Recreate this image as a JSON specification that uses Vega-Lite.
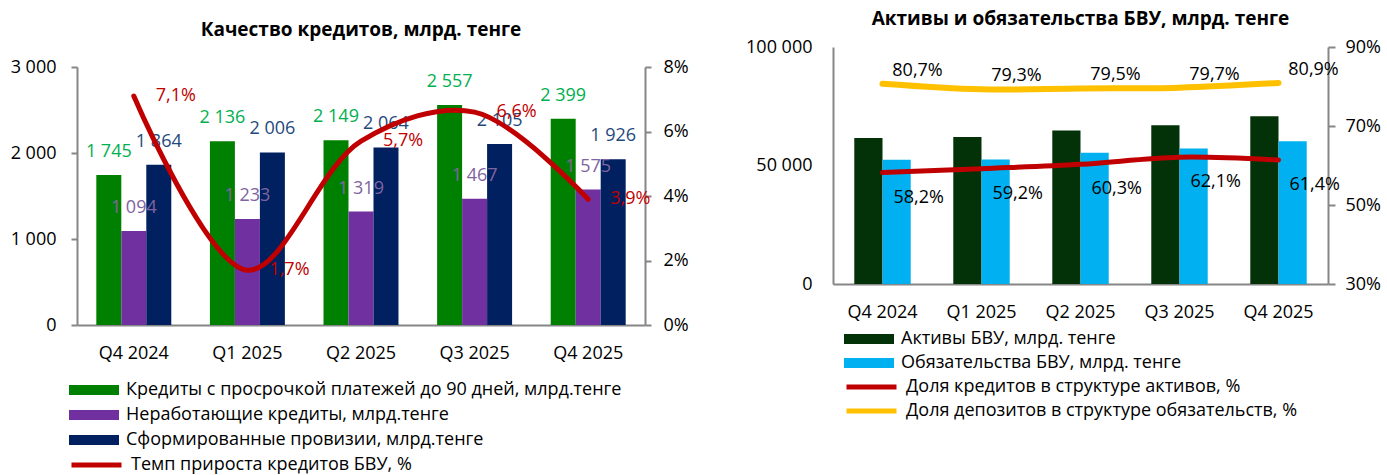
{
  "$schema": "https://vega.github.io/schema/vega-lite/v6.json",
  "background": "white",
  "padding": {"left": 10, "top": 10, "right": 5, "bottom": 0},
  "config": {
    "font": "Open Sans",
    "locale": {"number": {"decimal": ",", "thousands": " ", "grouping": [3], "currency": ["", ""]}},
    "view": {"stroke": null},
    "axis": {"labelFont": "Open Sans", "labelFontSize": 18, "labelColor": "#000000", "domainColor": "#868686", "tickColor": "#868686", "domainWidth": 2, "tickWidth": 2, "grid": false, "title": null},
    "title": {"font": "Open Sans", "fontSize": 19, "fontWeight": "bold", "color": "#000000"},
    "legend": {"labelFont": "Open Sans", "labelFontSize": 18, "labelColor": "#000000", "title": null, "orient": "none", "direction": "vertical", "clipHeight": 18, "labelOffset": 7, "labelLimit": 700}
  },
  "spacing": 56,
  "resolve": {"scale": {"x": "independent", "y": "independent", "xOffset": "independent", "color": "independent", "fill": "independent", "stroke": "independent"}, "legend": {"color": "independent", "stroke": "independent", "fill": "independent"}},
  "hconcat": [
    {
      "width": 568,
      "height": 278,
      "title": {"text": "Качество кредитов, млрд. тенге", "offset": 7, "anchor": "middle"},
      "layer": [
        {
          "data": {"values": [
            {"q": "Q4 2024", "s": "Кредиты с просрочкой платежей до 90 дней, млрд.тенге", "v": 1745},
            {"q": "Q4 2024", "s": "Неработающие кредиты, млрд.тенге", "v": 1094},
            {"q": "Q4 2024", "s": "Сформированные провизии, млрд.тенге", "v": 1864},
            {"q": "Q1 2025", "s": "Кредиты с просрочкой платежей до 90 дней, млрд.тенге", "v": 2136},
            {"q": "Q1 2025", "s": "Неработающие кредиты, млрд.тенге", "v": 1233},
            {"q": "Q1 2025", "s": "Сформированные провизии, млрд.тенге", "v": 2006},
            {"q": "Q2 2025", "s": "Кредиты с просрочкой платежей до 90 дней, млрд.тенге", "v": 2149},
            {"q": "Q2 2025", "s": "Неработающие кредиты, млрд.тенге", "v": 1319},
            {"q": "Q2 2025", "s": "Сформированные провизии, млрд.тенге", "v": 2064},
            {"q": "Q3 2025", "s": "Кредиты с просрочкой платежей до 90 дней, млрд.тенге", "v": 2557},
            {"q": "Q3 2025", "s": "Неработающие кредиты, млрд.тенге", "v": 1467},
            {"q": "Q3 2025", "s": "Сформированные провизии, млрд.тенге", "v": 2105},
            {"q": "Q4 2025", "s": "Кредиты с просрочкой платежей до 90 дней, млрд.тенге", "v": 2399},
            {"q": "Q4 2025", "s": "Неработающие кредиты, млрд.тенге", "v": 1575},
            {"q": "Q4 2025", "s": "Сформированные провизии, млрд.тенге", "v": 1926}
          ]},
          "encoding": {
            "x": {"field": "q", "type": "nominal", "sort": ["Q4 2024", "Q1 2025", "Q2 2025", "Q3 2025", "Q4 2025"], "scale": {"paddingInner": 0.34, "paddingOuter": 0.17},
                  "axis": {"orient": "bottom", "labelAngle": 0, "ticks": false, "labelPadding": 19, "domain": true}},
            "xOffset": {"field": "s", "type": "nominal", "sort": ["Кредиты с просрочкой платежей до 90 дней, млрд.тенге", "Неработающие кредиты, млрд.тенге", "Сформированные провизии, млрд.тенге"]},
            "y": {"field": "v", "type": "quantitative", "scale": {"domain": [0, 3000], "range": [278, 20]},
                  "axis": {"orient": "left", "values": [0, 1000, 2000, 3000], "format": ",d", "tickSize": 6, "labelPadding": 15}}
          },
          "layer": [
            {"mark": {"type": "bar"},
             "encoding": {"color": {"field": "s", "type": "nominal",
               "scale": {"domain": ["Кредиты с просрочкой платежей до 90 дней, млрд.тенге", "Неработающие кредиты, млрд.тенге", "Сформированные провизии, млрд.тенге"], "range": ["#008000", "#7030A0", "#002060"]},
               "legend": {"legendX": -8, "legendY": 334, "symbolType": "M-1,-0.2L1,-0.2L1,0.2L-1,0.2Z", "symbolSize": 2500, "symbolStrokeWidth": 0, "rowPadding": 7}}}},
            {"mark": {"type": "text", "fontSize": 18, "baseline": "middle", "dy": -23},
             "encoding": {"text": {"field": "v", "type": "quantitative", "format": ",d"},
               "fill": {"field": "s", "type": "nominal", "legend": null,
                 "scale": {"domain": ["Кредиты с просрочкой платежей до 90 дней, млрд.тенге", "Неработающие кредиты, млрд.тенге", "Сформированные провизии, млрд.тенге"], "range": ["#00B050", "#8064A2", "#1F497D"]}}}}
          ]
        },
        {
          "data": {"values": [
            {"q": "Q4 2024", "s": "Темп прироста кредитов БВУ, %", "g": 0.071},
            {"q": "Q1 2025", "s": "Темп прироста кредитов БВУ, %", "g": 0.017},
            {"q": "Q2 2025", "s": "Темп прироста кредитов БВУ, %", "g": 0.057},
            {"q": "Q3 2025", "s": "Темп прироста кредитов БВУ, %", "g": 0.066},
            {"q": "Q4 2025", "s": "Темп прироста кредитов БВУ, %", "g": 0.039}
          ]},
          "encoding": {
            "x": {"field": "q", "type": "nominal", "sort": ["Q4 2024", "Q1 2025", "Q2 2025", "Q3 2025", "Q4 2025"]},
            "y": {"field": "g", "type": "quantitative", "scale": {"domain": [0, 0.08], "range": [278, 20]},
                  "axis": {"orient": "right", "values": [0, 0.02, 0.04, 0.06, 0.08], "format": ".0%", "tickSize": 6, "labelPadding": 12}}
          },
          "layer": [
            {"mark": {"type": "line", "interpolate": "catmull-rom", "strokeWidth": 5, "strokeCap": "round"},
             "encoding": {"stroke": {"field": "s", "type": "nominal", "scale": {"domain": ["Темп прироста кредитов БВУ, %"], "range": ["#C00000"]},
               "legend": {"legendX": -8, "legendY": 409, "symbolType": "stroke", "symbolSize": 2500, "symbolStrokeWidth": 5}}}},
            {"mark": {"type": "text", "fontSize": 18, "color": "#C00000", "align": "left", "baseline": "middle", "dx": 22},
             "encoding": {"text": {"field": "g", "type": "quantitative", "format": ".1%"}}}
          ]
        }
      ],
      "resolve": {"scale": {"y": "independent"}}
    },
    {
      "width": 495,
      "height": 237,
      "title": {"text": "Активы и обязательства БВУ, млрд. тенге", "offset": 9, "anchor": "middle"},
      "layer": [
        {
          "data": {"values": [
            {"q": "Q4 2024", "s": "Активы БВУ, млрд. тенге", "v": 61600},
            {"q": "Q4 2024", "s": "Обязательства БВУ, млрд. тенге", "v": 52400},
            {"q": "Q1 2025", "s": "Активы БВУ, млрд. тенге", "v": 62000},
            {"q": "Q1 2025", "s": "Обязательства БВУ, млрд. тенге", "v": 52500},
            {"q": "Q2 2025", "s": "Активы БВУ, млрд. тенге", "v": 64800},
            {"q": "Q2 2025", "s": "Обязательства БВУ, млрд. тенге", "v": 55400},
            {"q": "Q3 2025", "s": "Активы БВУ, млрд. тенге", "v": 67000},
            {"q": "Q3 2025", "s": "Обязательства БВУ, млрд. тенге", "v": 57200},
            {"q": "Q4 2025", "s": "Активы БВУ, млрд. тенге", "v": 70800},
            {"q": "Q4 2025", "s": "Обязательства БВУ, млрд. тенге", "v": 60200}
          ]},
          "mark": {"type": "bar"},
          "encoding": {
            "x": {"field": "q", "type": "nominal", "sort": ["Q4 2024", "Q1 2025", "Q2 2025", "Q3 2025", "Q4 2025"], "scale": {"paddingInner": 0.43, "paddingOuter": 0.215},
                  "axis": {"orient": "bottom", "labelAngle": 0, "ticks": false, "labelPadding": 19, "domain": true}},
            "xOffset": {"field": "s", "type": "nominal", "sort": ["Активы БВУ, млрд. тенге", "Обязательства БВУ, млрд. тенге"]},
            "y": {"field": "v", "type": "quantitative", "scale": {"domain": [0, 100000]},
                  "axis": {"orient": "left", "values": [0, 50000, 100000], "format": ",d", "ticks": false, "labelPadding": 21}},
            "color": {"field": "s", "type": "nominal",
              "scale": {"domain": ["Активы БВУ, млрд. тенге", "Обязательства БВУ, млрд. тенге"], "range": ["#033209", "#00B0F0"]},
              "legend": {"legendX": 11, "legendY": 283, "symbolType": "M-1,-0.2L1,-0.2L1,0.2L-1,0.2Z", "symbolSize": 2500, "symbolStrokeWidth": 0, "rowPadding": 6}}
          }
        },
        {
          "data": {"values": [
            {"q": "Q4 2024", "s": "Доля кредитов в структуре активов, %", "v": 0.582},
            {"q": "Q1 2025", "s": "Доля кредитов в структуре активов, %", "v": 0.592},
            {"q": "Q2 2025", "s": "Доля кредитов в структуре активов, %", "v": 0.603},
            {"q": "Q3 2025", "s": "Доля кредитов в структуре активов, %", "v": 0.621},
            {"q": "Q4 2025", "s": "Доля кредитов в структуре активов, %", "v": 0.614},
            {"q": "Q4 2024", "s": "Доля депозитов в структуре обязательств, %", "v": 0.807},
            {"q": "Q1 2025", "s": "Доля депозитов в структуре обязательств, %", "v": 0.793},
            {"q": "Q2 2025", "s": "Доля депозитов в структуре обязательств, %", "v": 0.795},
            {"q": "Q3 2025", "s": "Доля депозитов в структуре обязательств, %", "v": 0.797},
            {"q": "Q4 2025", "s": "Доля депозитов в структуре обязательств, %", "v": 0.809}
          ]},
          "encoding": {
            "x": {"field": "q", "type": "nominal", "sort": ["Q4 2024", "Q1 2025", "Q2 2025", "Q3 2025", "Q4 2025"]},
            "y": {"field": "v", "type": "quantitative", "scale": {"domain": [0.3, 0.9]},
                  "axis": {"orient": "right", "values": [0.3, 0.5, 0.7, 0.9], "format": ".0%", "tickSize": 7, "labelPadding": 10}}
          },
          "layer": [
            {"transform": [{"filter": "datum.s == 'Доля кредитов в структуре активов, %'"}],
             "mark": {"type": "line", "interpolate": "catmull-rom", "strokeWidth": 5, "strokeCap": "round"},
             "encoding": {"stroke": {"field": "s", "type": "nominal",
               "scale": {"domain": ["Доля кредитов в структуре активов, %", "Доля депозитов в структуре обязательств, %"], "range": ["#C00000", "#FFC000"]},
               "legend": {"legendX": 11, "legendY": 331, "symbolType": "stroke", "symbolSize": 2500, "symbolStrokeWidth": 5, "rowPadding": 6}}}},
            {"transform": [{"filter": "datum.s == 'Доля депозитов в структуре обязательств, %'"}],
             "mark": {"type": "line", "interpolate": "catmull-rom", "strokeWidth": 6, "strokeCap": "round"},
             "encoding": {"stroke": {"field": "s", "type": "nominal"}}},
            {"transform": [{"filter": "datum.s == 'Доля кредитов в структуре активов, %'"}],
             "mark": {"type": "text", "fontSize": 18, "color": "#000000", "align": "left", "baseline": "middle", "dx": 11, "dy": 25},
             "encoding": {"text": {"field": "v", "type": "quantitative", "format": ".1%"}}},
            {"transform": [{"filter": "datum.s == 'Доля депозитов в структуре обязательств, %'"}],
             "mark": {"type": "text", "fontSize": 18, "color": "#000000", "align": "center", "baseline": "middle", "dx": 35, "dy": -13},
             "encoding": {"text": {"field": "v", "type": "quantitative", "format": ".1%"}}}
          ]
        }
      ],
      "resolve": {"scale": {"y": "independent"}}
    }
  ]
}
